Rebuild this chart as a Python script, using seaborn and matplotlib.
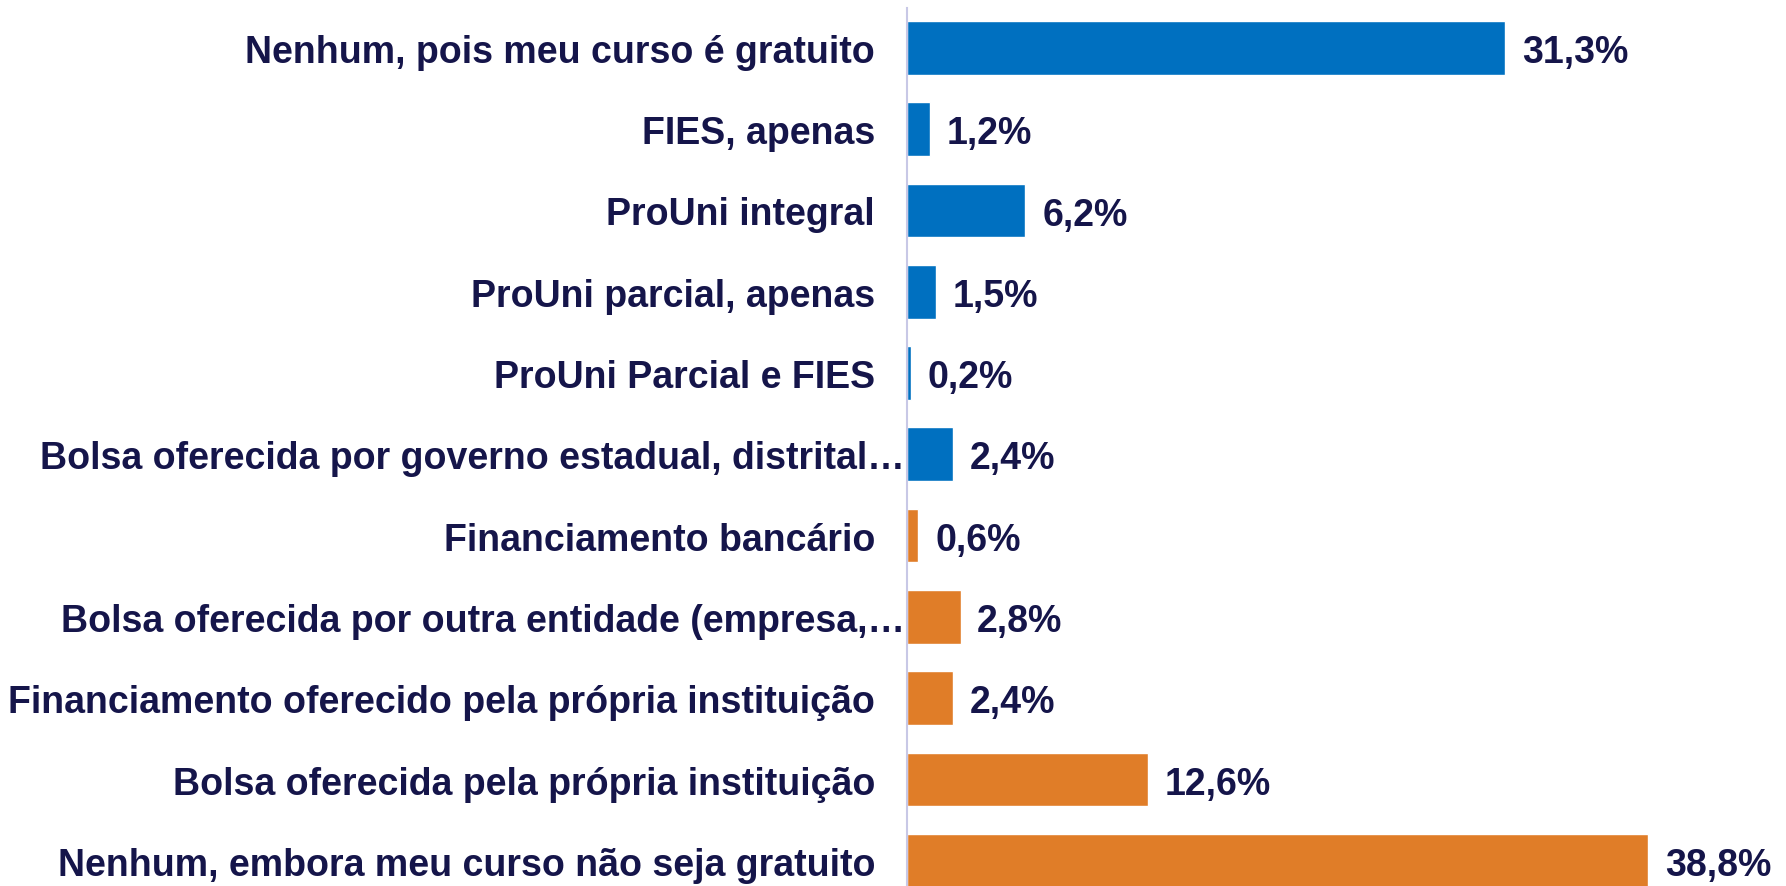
import numpy as np
import pandas as pd
import seaborn as sns
import matplotlib.pyplot as plt
import matplotlib.transforms as mtransforms

categorias = [
    "Nenhum, pois meu curso é gratuito",
    "FIES, apenas",
    "ProUni integral",
    "ProUni parcial, apenas",
    "ProUni Parcial e FIES",
    "Bolsa oferecida por governo estadual, distrital…",
    "Financiamento bancário",
    "Bolsa oferecida por outra entidade (empresa,…",
    "Financiamento oferecido pela própria instituição",
    "Bolsa oferecida pela própria instituição",
    "Nenhum, embora meu curso não seja gratuito",
]
valores = [31.3, 1.2, 6.2, 1.5, 0.2, 2.4, 0.6, 2.8, 2.4, 12.6, 38.8]
grupo = ["publico"] * 6 + ["privado"] * 5

cores = {"publico": "#0070C0", "privado": "#E07D28"}
texto = "#15154A"

df = pd.DataFrame({"categoria": categorias, "valor": valores, "grupo": grupo})

sns.set_style("white")
plt.rcParams["font.family"] = ["Liberation Sans", "DejaVu Sans"]

fig = plt.figure(figsize=(17.86, 8.87), dpi=100)
ax = fig.add_axes([907 / 1786, 0, 1 - 907 / 1786, 1 - 9 / 887])

sns.barplot(
    df,
    x="valor",
    y="categoria",
    hue="grupo",
    palette=cores,
    saturation=1,
    dodge=False,
    legend=False,
    width=0.66,
    ax=ax,
)

for container in ax.containers:
    anns = ax.bar_label(
        container,
        labels=[f"{v:.1f}".replace(".", ",") + "%" for v in container.datavalues],
        padding=12,
        fontsize=27,
        fontweight="bold",
        color=texto,
    )
    # a bit lower, like the original
    for a in anns:
        a.xyann = (12, -3)

ax.set_xlim(0, 46)
ax.set_ylim(10.31, -0.49)
ax.set(xlabel="", ylabel="")
ax.set_xticks([])
ax.tick_params(axis="y", length=0, pad=23, labelsize=27, labelcolor=texto)
for lbl in ax.get_yticklabels():
    lbl.set_fontweight("bold")
    if lbl.get_text().endswith("…"):
        lbl.set_transform(lbl.get_transform() + mtransforms.ScaledTranslation(0.3, 0, fig.dpi_scale_trans))

for side in ["top", "right", "bottom"]:
    ax.spines[side].set_visible(False)
ax.spines["left"].set_color("#C8C8E6")
ax.spines["left"].set_linewidth(1.5)

plt.savefig("out.png", dpi=100)
